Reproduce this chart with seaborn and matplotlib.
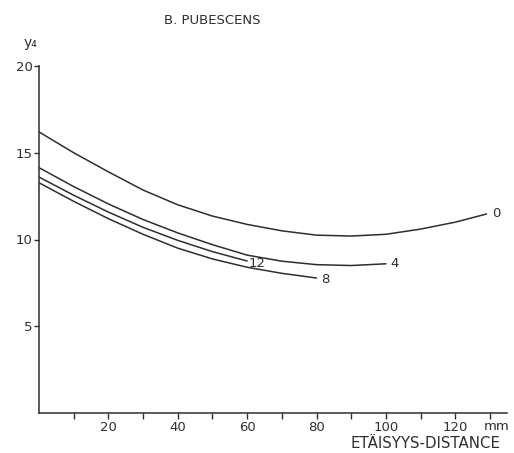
import matplotlib
matplotlib.use("Agg")
import matplotlib.pyplot as plt
import seaborn as sns
import pandas as pd
import numpy as np

# ---- data ----
x_0 = [0, 10, 20, 30, 40, 50, 60, 70, 80, 90, 100, 110, 120, 129]
y_0 = [16.2, 15.0, 13.9, 12.85, 12.0, 11.35, 10.87, 10.5, 10.25, 10.2, 10.3, 10.6, 11.0, 11.47]

x_4 = [0, 10, 20, 30, 40, 50, 60, 70, 80, 90, 100]
y_4 = [14.14, 13.05, 12.05, 11.15, 10.38, 9.7, 9.1, 8.75, 8.55, 8.5, 8.6]

x_12 = [0, 10, 20, 30, 40, 50, 60]
y_12 = [13.6, 12.55, 11.58, 10.7, 9.95, 9.3, 8.76]

x_8 = [0, 10, 20, 30, 40, 50, 60, 70, 80]
y_8 = [13.27, 12.2, 11.2, 10.3, 9.5, 8.88, 8.4, 8.05, 7.78]

series_names = ["0", "4", "12", "8"]
x_ticks = [10, 20, 30, 40, 50, 60, 70, 80, 90, 100, 110, 120, 130]
x_ticklabels = ["", "20", "", "40", "", "60", "", "80", "", "100", "", "120", ""]
y_ticks = [5, 10, 15, 20]
y_ticklabels = ["5", "10", "15", "20"]

title = "B. PUBESCENS"
y_label = "y₄"
x_label = "ETÄISYYS-DISTANCE"
x_unit = "mm"

# ---- build table ----
frames = []
for name, xs, ys in zip(series_names, [x_0, x_4, x_12, x_8], [y_0, y_4, y_12, y_8]):
    frames.append(pd.DataFrame({"x": xs, "y": ys, "series": name}))
df = pd.concat(frames, ignore_index=True)

sns.set_style("white")
plt.rcParams["font.family"] = ["DejaVu Sans"]

ink = "#2e2e2e"
fig = plt.figure(figsize=(5.14, 4.53), dpi=100)
ax = fig.add_axes([39 / 514, (453 - 413) / 453, 468 / 514, 347 / 453])

sns.lineplot(data=df, x="x", y="y", hue="series", palette={n: ink for n in series_names},
             legend=False, linewidth=1.1, ax=ax, sort=False, estimator=None)

ax.set_xlim(0, 134.9)
ax.set_ylim(0, 20)
for s in ["top", "right"]:
    ax.spines[s].set_visible(False)
for s in ["left", "bottom"]:
    ax.spines[s].set_color(ink)
    ax.spines[s].set_linewidth(1.1)

ax.set_xticks(x_ticks)
ax.set_xticklabels(x_ticklabels)
ax.set_yticks(y_ticks)
ax.set_yticklabels(y_ticklabels)
ax.tick_params(axis="x", bottom=True, direction="out", length=4.5, width=1.0, color=ink,
               labelsize=9.5, labelcolor=ink, pad=1.5)
ax.tick_params(axis="y", left=True, direction="out", length=3.5, width=1.0, color=ink,
               labelsize=9.5, labelcolor=ink, pad=1)
ax.set_xlabel("")
ax.set_ylabel("")

# curve end labels
offsets = {"0": (4, 0), "4": (3, 0), "12": (1, -1.5), "8": (3, -1)}
for name, xs, ys in zip(series_names, [x_0, x_4, x_12, x_8], [y_0, y_4, y_12, y_8]):
    ax.annotate(name, xy=(xs[-1], ys[-1]), xytext=offsets[name], textcoords="offset points",
                ha="left", va="center", fontsize=9.5, color=ink)

fig.text(212 / 514, 1 - 21 / 453, title, ha="center", va="center", fontsize=9.5, color=ink)
fig.text(30 / 514, 1 - 43 / 453, y_label, ha="center", va="center", fontsize=10, color=ink)
fig.text(497 / 514, 1 - 427 / 453, x_unit, ha="center", va="center", fontsize=9.5, color=ink)
fig.text(500 / 514, 1 - 444 / 453, x_label, ha="right", va="center", fontsize=10.8, color=ink)

fig.savefig("out.png", dpi=100, facecolor="white")
